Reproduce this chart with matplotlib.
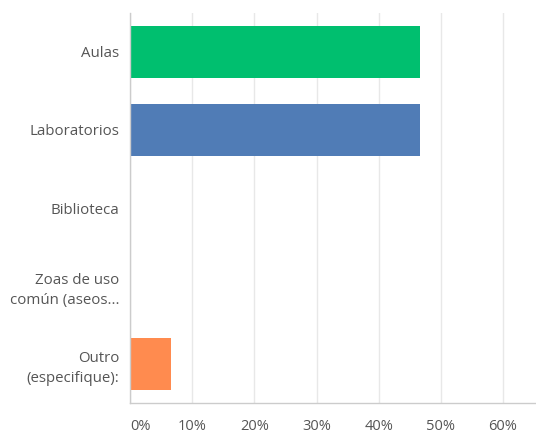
"""Horizontal bar chart of survey answers (percent of respondents)."""

import matplotlib
matplotlib.use("Agg")
import matplotlib.pyplot as plt
from matplotlib.ticker import FuncFormatter

# Survey answers, top to bottom as shown.
categories = [
    "Aulas",
    "Laboratorios",
    "Biblioteca",
    "Zoas de uso\ncomún (aseos...",
    "Outro\n(especifique):",
]
percentages = [46.67, 46.67, 0.0, 0.0, 6.67]
bar_colors = ["#00bf6f", "#507cb6", "#6bc8cd", "#f9be00", "#ff8b4f"]
x_ticks = [0, 10, 20, 30, 40, 50, 60]

plt.rcParams["font.family"] = ["Open Sans", "DejaVu Sans"]

fig = plt.figure(figsize=(5.36, 4.34), dpi=100)
ax = fig.add_axes([130 / 536, 1 - 403.3 / 434, 406 / 536, 390.6 / 434])

positions = list(range(len(categories)))
ax.barh(positions, percentages, height=0.667, color=bar_colors, zorder=3)

ax.set_ylim(len(categories) - 0.5, -0.5)
ax.set_xlim(0, 65.3)
ax.set_yticks(positions)
ax.set_yticklabels(categories, fontsize=10.8, color="#555555", linespacing=1.4)
ax.set_xticks(x_ticks)
ax.xaxis.set_major_formatter(FuncFormatter(lambda v, _: f"{v:.0f}%"))
ax.tick_params(axis="x", labelsize=10.5, labelcolor="#555555", length=0, pad=11)
ax.tick_params(axis="y", length=0, pad=7.5)

# the first label sits just right of the axis, not centred on it
ax.get_xticklabels()[0].set_horizontalalignment("left")

# Light vertical gridlines only.
ax.grid(axis="x", color="#e8e8e8", linewidth=1, zorder=0)
for side in ("top", "right"):
    ax.spines[side].set_visible(False)
for side in ("left", "bottom"):
    ax.spines[side].set_color("#cccccc")
    ax.spines[side].set_linewidth(1)
    ax.spines[side].set_zorder(4)

fig.savefig("out.png", dpi=100)
